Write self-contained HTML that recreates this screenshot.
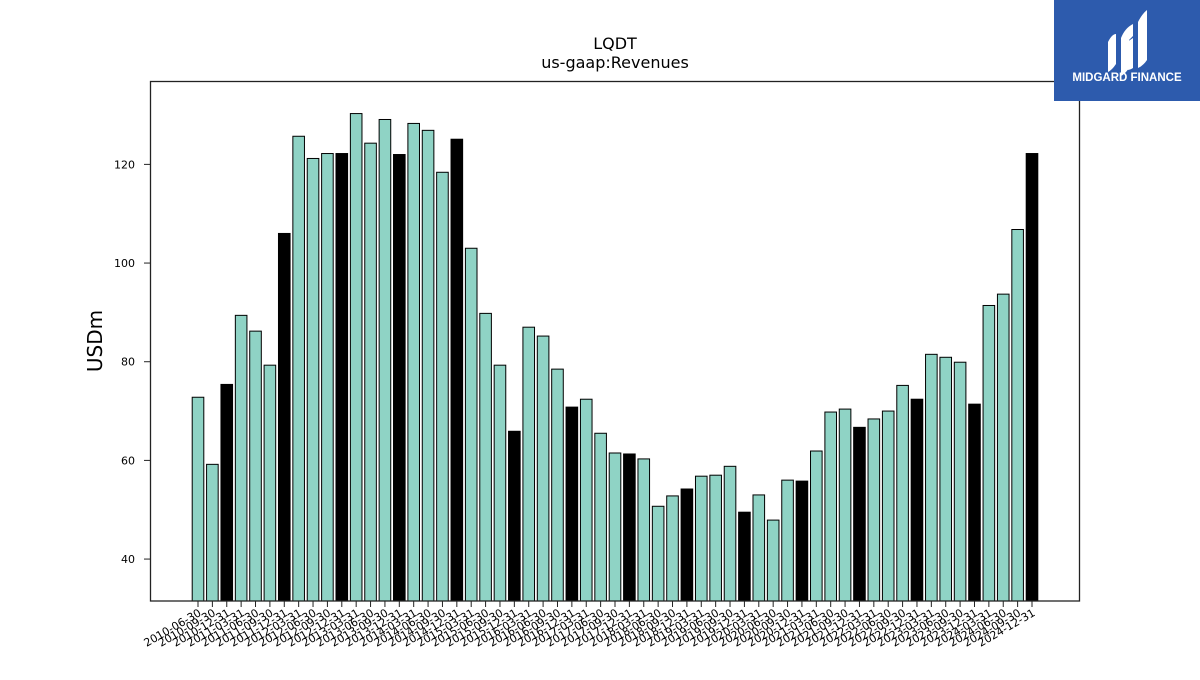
<!DOCTYPE html>
<html><head><meta charset="utf-8"><style>
body{margin:0;background:#fff;width:1200px;height:675px;overflow:hidden;font-family:"Liberation Sans","DejaVu Sans",sans-serif}
</style></head><body>
<svg id="chart" width="1200" height="675" xmlns="http://www.w3.org/2000/svg" font-family="DejaVu Sans, Liberation Sans, sans-serif">
<text x="615" y="49" font-size="16" text-anchor="middle">LQDT</text>
<text x="615" y="68" font-size="16" text-anchor="middle">us-gaap:Revenues</text>
<text transform="translate(102,341) rotate(-90)" font-size="20" text-anchor="middle">USDm</text>
<g id="bars"></g>
<g id="yticks"></g>
<g id="xticks"></g>
<rect x="150.5" y="81.5" width="929" height="519.5" fill="none" stroke="#222" stroke-width="1.3"/>
<g>
<rect x="1054" y="0" width="146" height="101" fill="#2d5bad"/>
<path d="M1108 42 q4-8 8-8 v30 q-4 6-8 8z M1121 38 q4-10 12-14 v12 l-4 4 v28 q-4 6-8 8z M1127 42 l6-4 v30 q-3 2-6 2z M1138 22 q4-8 9-12 v50 q-4 6-9 8z" fill="#fff"/>
<text x="1127" y="81" font-size="11.5" font-weight="bold" fill="#fff" text-anchor="middle" font-family="Liberation Sans, sans-serif">MIDGARD FINANCE</text>
</g>
</svg>
<script>
const dates=["2010-06-30","2010-09-30","2010-12-31","2011-03-31","2011-06-30","2011-09-30","2011-12-31","2012-03-31","2012-06-30","2012-09-30","2012-12-31","2013-03-31","2013-06-30","2013-09-30","2013-12-31","2014-03-31","2014-06-30","2014-09-30","2014-12-31","2015-03-31","2015-06-30","2015-09-30","2015-12-31","2016-03-31","2016-06-30","2016-09-30","2016-12-31","2017-03-31","2017-06-30","2017-09-30","2017-12-31","2018-03-31","2018-06-30","2018-09-30","2018-12-31","2019-03-31","2019-06-30","2019-09-30","2019-12-31","2020-03-31","2020-06-30","2020-09-30","2020-12-31","2021-03-31","2021-06-30","2021-09-30","2021-12-31","2022-03-31","2022-06-30","2022-09-30","2022-12-31","2023-03-31","2023-06-30","2023-09-30","2023-12-31","2024-03-31","2024-06-30","2024-09-30","2024-12-31"];
const revenues=[72.8,59.2,75.4,89.4,86.2,79.3,106.0,125.7,121.2,122.2,122.2,130.3,124.3,129.1,122.0,128.3,126.9,118.4,125.1,103.0,89.8,79.3,65.9,87.0,85.2,78.5,70.8,72.4,65.5,61.5,61.3,60.3,50.7,52.8,54.2,56.8,57.0,58.8,49.5,53.0,47.9,56.0,55.8,61.9,69.8,70.4,66.7,68.4,70.0,75.2,72.4,81.5,80.9,79.9,71.4,91.4,93.7,106.8,122.2];
const yTicks=[40,60,80,100,120];
(function(){
const NS="http://www.w3.org/2000/svg";
const yMin=31.5,yMax=136.8,plotTop=81.5,plotBot=601;
const y=v=>plotBot-(v-yMin)/(yMax-yMin)*(plotBot-plotTop);
const x0=198,x1=1032;
const x=i=>x0+i*(x1-x0)/(dates.length-1);
const bw=11.6;
const gb=document.getElementById('bars'),gy=document.getElementById('yticks'),gx=document.getElementById('xticks');
revenues.forEach((v,i)=>{
 const r=document.createElementNS(NS,'rect');
 
 
 r.setAttribute('x',x(i)-bw/2);r.setAttribute('y',y(v));
 r.setAttribute('width',bw);r.setAttribute('height',plotBot-y(v));
 r.setAttribute('fill',dates[i].endsWith('12-31')?'#000':'#8fd3c5');
 r.setAttribute('stroke','#000');r.setAttribute('stroke-width','1');
 gb.appendChild(r);
 const t=document.createElementNS(NS,'line');
 
 
 t.setAttribute('x1',x(i));t.setAttribute('x2',x(i));t.setAttribute('y1',plotBot);t.setAttribute('y2',plotBot+6);
 t.setAttribute('stroke','#222');gx.appendChild(t);
 const l=document.createElementNS(NS,'text');
 
 
 l.setAttribute('font-size','11');l.setAttribute('text-anchor','end');
 l.setAttribute('transform','translate('+(x(i)+4)+','+(plotBot+14)+') rotate(-30)');
 l.textContent=dates[i];gx.appendChild(l);
});
yTicks.forEach(v=>{
 const t=document.createElementNS(NS,'line');
 
 
 t.setAttribute('x1',144);t.setAttribute('x2',150);t.setAttribute('y1',y(v));t.setAttribute('y2',y(v));
 t.setAttribute('stroke','#222');gy.appendChild(t);
 const l=document.createElementNS(NS,'text');
 
 
 l.setAttribute('x',135);l.setAttribute('y',y(v)+4);l.setAttribute('font-size','11');l.setAttribute('text-anchor','end');
 l.textContent=v;gy.appendChild(l);
});
})();
</script>
</body></html>
